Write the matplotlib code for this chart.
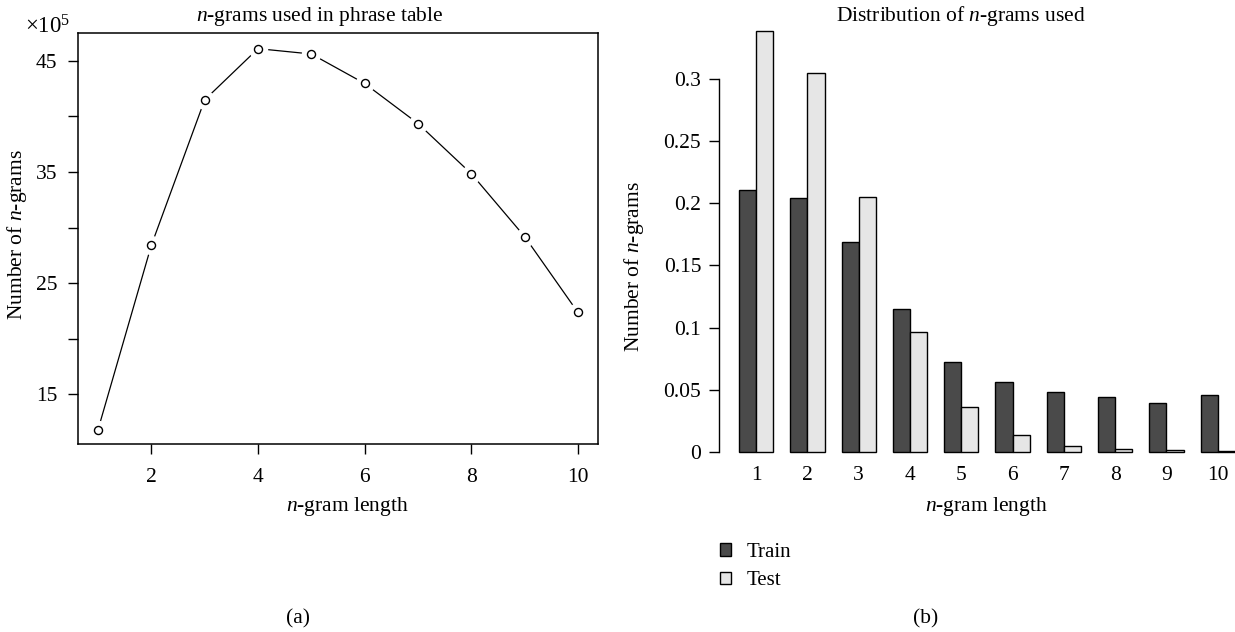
import numpy as np
import matplotlib
matplotlib.use("Agg")
import matplotlib.pyplot as plt
from matplotlib.patches import Patch

# ------------------ DATOS ------------------
longitudes = [1, 2, 3, 4, 5, 6, 7, 8, 9, 10]
ngrams_tabla = [11.84, 28.41, 41.48, 46.08, 45.6, 42.95, 39.35, 34.84, 29.19, 22.37]  # x10^5

train = [0.2108, 0.2041, 0.1687, 0.1147, 0.0722, 0.0561, 0.0483, 0.0440, 0.0390, 0.0454]
test = [0.3389, 0.3053, 0.2049, 0.0967, 0.0357, 0.0132, 0.0043, 0.0024, 0.0010, 0.0008]

yticks_izq = [15, 20, 25, 30, 35, 40, 45]
yticks_der = [0, 0.05, 0.1, 0.15, 0.2, 0.25, 0.3]

# ------------------ ESTILO ------------------
plt.rcParams["font.family"] = ["Liberation Serif", "DejaVu Serif"]
plt.rcParams["font.size"] = 15.5
plt.rcParams["mathtext.fontset"] = "custom"
plt.rcParams["mathtext.rm"] = "Liberation Serif"
plt.rcParams["mathtext.it"] = "Liberation Serif:italic"

W, H = 1235, 632
fig = plt.figure(figsize=(W / 100, H / 100), dpi=100, facecolor="white")


def caja(x0, y0, x1, y1):
    # pixeles -> fraccion de figura
    return [x0 / W, 1 - y1 / H, (x1 - x0) / W, (y1 - y0) / H]


def texto(x, y, s, **kw):
    fig.text(x / W, 1 - y / H, s, ha="center", va="center", **kw)


# ------------------ (a) ------------------
ax1 = fig.add_axes(caja(78.3, 33.3, 597.7, 444))
ax1.plot(longitudes, ngrams_tabla, color="black", lw=0.9, zorder=1)
ax1.plot(longitudes, ngrams_tabla, "o", ms=13, mfc="white", mec="white", zorder=2)
ax1.plot(longitudes, ngrams_tabla, "o", ms=5.8, mfc="white", mec="black", mew=1.0, zorder=3)
ax1.set_xlim(0.63, 10.37)
ax1.set_ylim(10.55, 47.46)
ax1.set_xticks([2, 4, 6, 8, 10])
ax1.set_yticks(yticks_izq)
ax1.set_yticklabels(["15", "", "25", "", "35", "", "45"])
ax1.tick_params(direction="out", length=7, width=1.0)
ax1.tick_params(axis="x", pad=10)
ax1.tick_params(axis="y", pad=8)
for s in ax1.spines.values():
    s.set_linewidth(1.1)

texto(17.5, 235, "Number of $\\it{n}$-grams", rotation=90)
texto(347.8, 506, "$\\it{n}$-gram length")
texto(47.5, 27, "$\\times$10$^5$", fontsize=16.5)
texto(319.5, 16.5, "$\\it{n}$-grams used in phrase table")
texto(298, 619, "(a)")

# ------------------ (b) ------------------
ax2 = fig.add_axes(caja(719.2, 14, 1254.7, 451.7))
idx = np.arange(len(longitudes))
x_train = 3 * idx + 1.5
x_test = 3 * idx + 2.5
ax2.bar(x_train, train, width=1.0, color="#4a4a4a", edgecolor="black", linewidth=1.0, clip_on=False)
ax2.bar(x_test, test, width=1.0, color="#e6e6e6", edgecolor="black", linewidth=1.0, clip_on=False)
ax2.set_xlim(-0.16, 31.16)
ax2.set_ylim(0, 0.3526)
ax2.set_xticks(3 * idx + 2)
ax2.set_xticklabels([str(v) for v in longitudes])
ax2.tick_params(axis="x", length=0, pad=10)
ax2.set_yticks(yticks_der)
ax2.set_yticklabels(["0", "0.05", "0.1", "0.15", "0.2", "0.25", "0.3"])
ax2.tick_params(axis="y", direction="out", length=7, width=1.0, pad=6)
for lado in ["top", "right", "bottom"]:
    ax2.spines[lado].set_visible(False)
ax2.spines["left"].set_bounds(0, 0.3)
ax2.spines["left"].set_linewidth(1.0)

texto(634.5, 266.7, "Number of $\\it{n}$-grams", rotation=90)
texto(986.6, 507, "$\\it{n}$-gram length")
texto(961, 16.5, "Distribution of $\\it{n}$-grams used")
texto(925.8, 619, "(b)")

manejadores = [Patch(facecolor="#4a4a4a", edgecolor="black", label="Train"),
               Patch(facecolor="#e6e6e6", edgecolor="black", label="Test")]
fig.legend(handles=manejadores, loc="center left", bbox_to_anchor=(720 / W, 1 - 566.7 / H),
           frameon=False, fontsize=15, handlelength=0.55, handleheight=0.55, handletextpad=0.75,
           labelspacing=0.45, borderpad=0, borderaxespad=0)

fig.savefig("out.png", dpi=100, facecolor="white")
